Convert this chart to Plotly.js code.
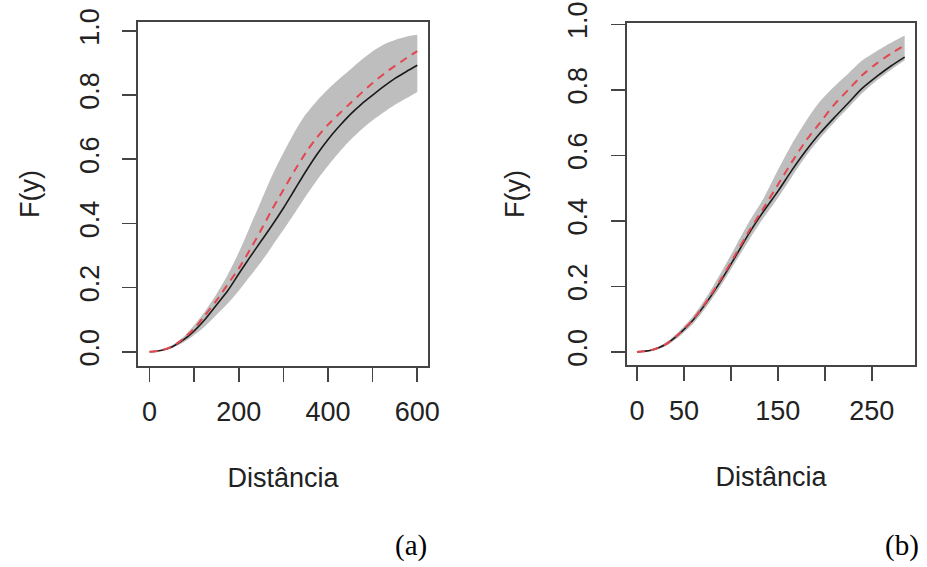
<!DOCTYPE html>
<html>
<head>
<meta charset="utf-8">
<script src="https://cdn.plot.ly/plotly-3.0.1.min.js"></script>
<style>html,body{margin:0;padding:0;background:#fff;}#chart{width:927px;height:567px;}</style>
</head>
<body>
<div id="chart"></div>
<script>
// Panel (a)
const distA = [0,25,50,75,100,125,150,175,200,225,250,275,300,325,350,375,400,425,450,475,500,525,550,575,600];
const fittedA = [0,0.004,0.015,0.036,0.065,0.102,0.146,0.19,0.243,0.295,0.345,0.395,0.448,0.505,0.562,0.615,0.662,0.703,0.74,0.772,0.80,0.827,0.852,0.873,0.893];
const empiricalA = [0,0.004,0.016,0.04,0.072,0.115,0.16,0.21,0.26,0.318,0.38,0.445,0.505,0.565,0.62,0.668,0.708,0.742,0.775,0.807,0.838,0.866,0.891,0.915,0.937];
const upperA = [0,0.005,0.02,0.045,0.083,0.128,0.18,0.24,0.31,0.39,0.47,0.55,0.62,0.685,0.74,0.782,0.818,0.85,0.88,0.91,0.937,0.958,0.972,0.982,0.988];
const lowerA = [0,0.003,0.012,0.028,0.052,0.08,0.115,0.15,0.19,0.235,0.28,0.33,0.38,0.432,0.485,0.535,0.58,0.622,0.66,0.693,0.722,0.747,0.77,0.79,0.81];

// Panel (b)
const distB = [0,15,30,45,60,75,90,105,120,135,150,165,180,195,210,225,240,255,270,285];
const fittedB = [0,0.005,0.022,0.055,0.098,0.155,0.22,0.292,0.365,0.43,0.49,0.555,0.615,0.668,0.715,0.76,0.805,0.84,0.872,0.90];
const empiricalB = [0,0.005,0.022,0.056,0.10,0.158,0.225,0.298,0.372,0.44,0.51,0.58,0.645,0.70,0.755,0.80,0.845,0.88,0.91,0.936];
const upperB = [0,0.007,0.027,0.063,0.11,0.172,0.245,0.322,0.40,0.47,0.555,0.635,0.705,0.765,0.81,0.85,0.89,0.918,0.943,0.966];
const lowerB = [0,0.003,0.017,0.047,0.087,0.142,0.205,0.275,0.345,0.41,0.47,0.535,0.598,0.652,0.70,0.745,0.79,0.828,0.86,0.89];

const xTicksA = [0,100,200,300,400,500,600];
const xTextA = ['0','','200','','400','','600'];
const xTicksB = [0,50,100,150,200,250];
const xTextB = ['0','50','','150','','250'];
const yTicks = [0,0.2,0.4,0.6,0.8,1.0];
const yText = ['0.0','0.2','0.4','0.6','0.8','1.0'];
const xLabel = 'Distância';
const yLabel = 'F(y)';
const panelLabels = ['(a)','(b)'];

const bandColor = '#BEBEBE';
const redColor = '#E2474F';
const blackColor = '#1a1a1a';

function panel(x, lo, up, fit, emp, xa, ya) {
  return [
    {x: x, y: lo, xaxis: xa, yaxis: ya, mode: 'lines', line: {width: 0, color: bandColor, shape: 'spline', smoothing: 0.8}, hoverinfo: 'skip', showlegend: false},
    {x: x, y: up, xaxis: xa, yaxis: ya, mode: 'lines', line: {width: 0, color: bandColor, shape: 'spline', smoothing: 0.8}, fill: 'tonexty', fillcolor: bandColor, showlegend: false},
    {x: x, y: fit, xaxis: xa, yaxis: ya, mode: 'lines', line: {width: 1.6, color: blackColor, shape: 'spline', smoothing: 0.8}, showlegend: false},
    {x: x, y: emp, xaxis: xa, yaxis: ya, mode: 'lines', line: {width: 2, color: redColor, dash: '8px,6px', shape: 'spline', smoothing: 0.8}, showlegend: false}
  ];
}

const data = [].concat(
  panel(distA, lowerA, upperA, fittedA, empiricalA, 'x', 'y'),
  panel(distB, lowerB, upperB, fittedB, empiricalB, 'x2', 'y2')
);

const font = {family: 'Liberation Sans, Arial, sans-serif', size: 27, color: '#222'};
const axisCommon = {
  showline: true, mirror: true, linecolor: '#444', linewidth: 1.6,
  ticks: 'outside', ticklen: 14, tickwidth: 1.6, tickcolor: '#444',
  showgrid: false, zeroline: false, tickfont: font, fixedrange: true
};

const layout = {
  width: 927, height: 567, autosize: false,
  margin: {l: 0, r: 0, t: 0, b: 0},
  paper_bgcolor: '#fff', plot_bgcolor: '#fff',
  font: font,
  showlegend: false,
  xaxis: Object.assign({}, axisCommon, {domain: [138/927, 428/927], range: [-26, 624], anchor: 'y',
    tickmode: 'array', tickvals: xTicksA, ticktext: xTextA, ticklabelstandoff: 7,
    title: {text: xLabel, font: font, standoff: 42}}),
  yaxis: Object.assign({}, axisCommon, {domain: [1-366/567, 1-22/567], range: [-0.0445, 1.028], anchor: 'x',
    tickmode: 'array', tickvals: yTicks, ticktext: yText, tickangle: -90, ticklabelstandoff: 13,
    title: {text: yLabel, font: font, standoff: 27}}),
  xaxis2: Object.assign({}, axisCommon, {domain: [627/927, 915/927], range: [-10.6, 296], anchor: 'y2',
    tickmode: 'array', tickvals: xTicksB, ticktext: xTextB, ticklabelstandoff: 7,
    title: {text: xLabel, font: font, standoff: 42}}),
  yaxis2: Object.assign({}, axisCommon, {domain: [1-365/567, 1-23/567], range: [-0.04, 1.004], anchor: 'x2',
    tickmode: 'array', tickvals: yTicks, ticktext: yText, tickangle: -90, ticklabelstandoff: 14,
    title: {text: yLabel, font: font, standoff: 30}}),
  annotations: [
    {text: panelLabels[0], xref: 'paper', yref: 'paper', x: 411/927, y: 1-545/567, xanchor: 'center', yanchor: 'middle', showarrow: false,
      font: {family: 'Liberation Serif, Times New Roman, serif', size: 29, color: '#000'}},
    {text: panelLabels[1], xref: 'paper', yref: 'paper', x: 902/927, y: 1-545/567, xanchor: 'center', yanchor: 'middle', showarrow: false,
      font: {family: 'Liberation Serif, Times New Roman, serif', size: 29, color: '#000'}}
  ]
};

Plotly.newPlot('chart', data, layout, {displayModeBar: false, staticPlot: true});
</script>
</body>
</html>
